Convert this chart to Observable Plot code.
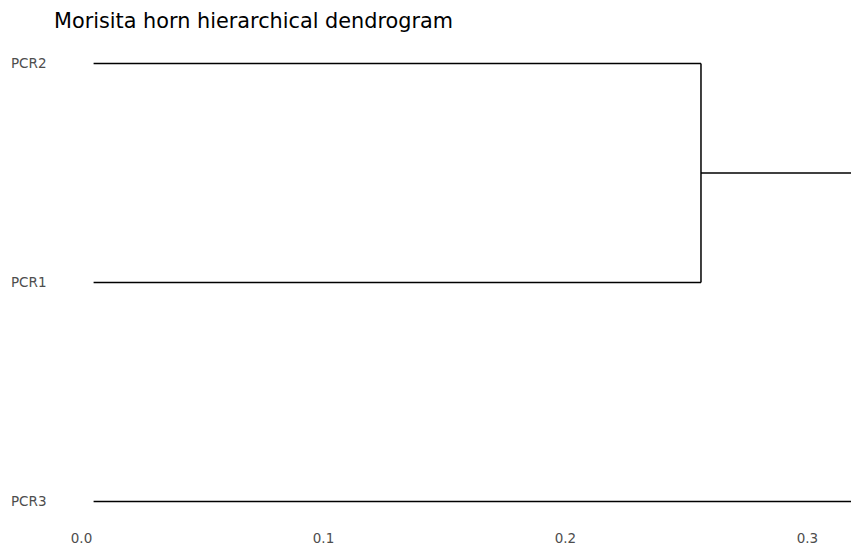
<!DOCTYPE html>
<html>
<head>
<meta charset="utf-8">
<script src="https://cdn.jsdelivr.net/npm/d3@7"></script>
<script src="https://cdn.jsdelivr.net/npm/@observablehq/plot@0.6"></script>
<style>
  html, body { margin: 0; padding: 0; background: #fff; }
  #wrap { position: relative; width: 851px; height: 546px; font-family: "DejaVu Sans", sans-serif; }
  #title { position: absolute; left: 54px; top: 11px; font-size: 20.8px; line-height: 1; color: #000; white-space: nowrap; }
  #chart { position: absolute; left: 0; top: 0; }
</style>
</head>
<body>
<div id="wrap">
  <div id="chart"></div>
  <div id="title">Morisita horn hierarchical dendrogram</div>
</div>
<script>
// Leaves (top to bottom) and their vertical positions
const leafLabels = ["PCR2", "PCR1", "PCR3"];
const leafPos = [3, 2, 1];
const leafHeight = 0.005;           // where leaf branches start
// Merges: PCR2 + PCR1 at 0.256, then with PCR3 above the visible range
const mergeHeight = [0.256, 0.33];
const xTicks = [0.0, 0.1, 0.2, 0.3];

// Build segments from the tree structure
const clusterPos = (leafPos[0] + leafPos[1]) / 2;
const segs = [
  {x1: leafHeight, x2: mergeHeight[0], y1: leafPos[0], y2: leafPos[0]},
  {x1: leafHeight, x2: mergeHeight[0], y1: leafPos[1], y2: leafPos[1]},
  {x1: leafHeight, x2: mergeHeight[1], y1: leafPos[2], y2: leafPos[2]},
  {x1: mergeHeight[0], x2: mergeHeight[0], y1: leafPos[0], y2: leafPos[1]},
  {x1: mergeHeight[0], x2: mergeHeight[1], y1: clusterPos, y2: clusterPos},
  {x1: mergeHeight[1], x2: mergeHeight[1], y1: clusterPos, y2: leafPos[2]}
];

const chart = Plot.plot({
  width: 851,
  height: 546,
  marginLeft: 55,
  marginRight: 0,
  marginTop: 40,
  marginBottom: 20,
  style: {fontFamily: "DejaVu Sans, sans-serif", fontSize: "13.5px", background: "#fff"},
  x: {domain: [-0.01074, 0.3182]},
  y: {domain: [0.886, 3.105]},
  marks: [
    Plot.link(segs, {x1: "x1", y1: "y1", x2: "x2", y2: "y2", stroke: "#000", strokeWidth: 1.5, clip: true}),
    Plot.axisX({ticks: xTicks, tickFormat: d3.format(".1f"), tickSize: 0, tickPadding: 7, label: null, fill: "#4d4d4d", fontSize: 13.5}),
    Plot.axisY({ticks: leafPos, tickFormat: (d) => leafLabels[leafPos.indexOf(d)], tickSize: 0, tickPadding: 9, label: null, fill: "#4d4d4d", fontSize: 13.5})
  ]
});
document.getElementById("chart").appendChild(chart);
</script>
</body>
</html>
